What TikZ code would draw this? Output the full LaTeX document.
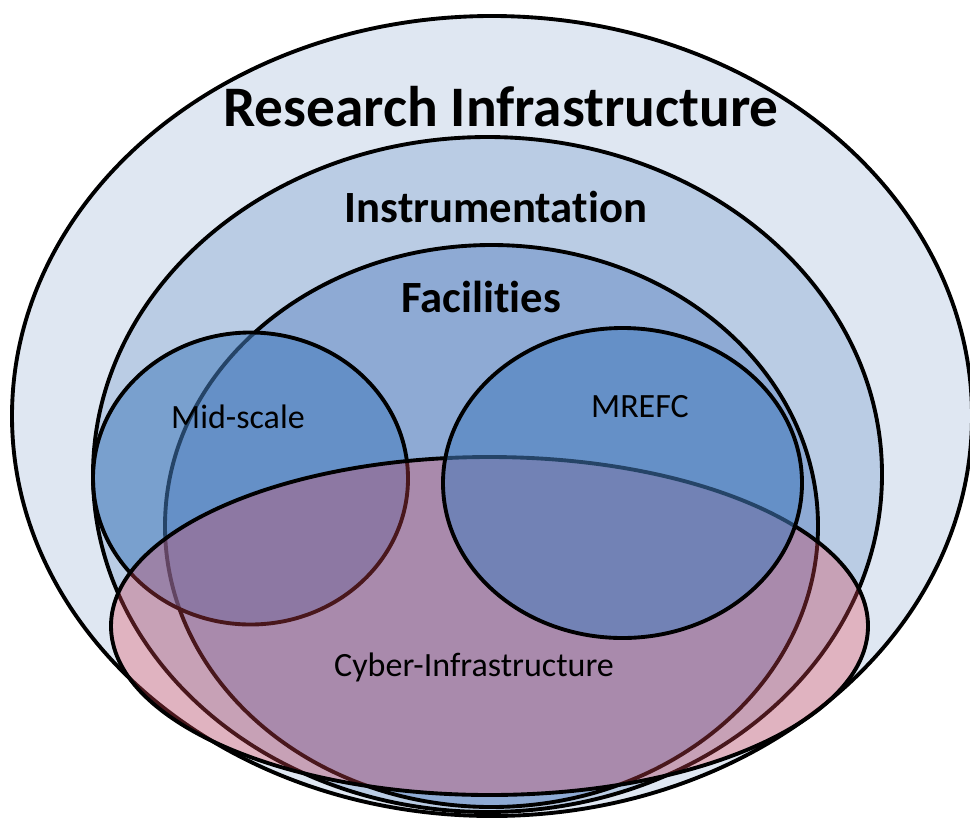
\documentclass[tikz,border=0pt]{standalone}
\usepackage{fontspec}
\setmainfont{Carlito}[Ligatures=NoCommon]
\definecolor{riblue}{RGB}{223,231,242}
\definecolor{inblue}{RGB}{186,204,228}
\definecolor{fablue}{RGB}{142,170,212}
\definecolor{subblue}{RGB}{69,124,189}
\definecolor{cyred}{RGB}{228,72,88}
% keep t and i apart
\newcommand{\tii}{t\kern0pt i}

\begin{document}
\begin{tikzpicture}[x=0.75pt, y=-0.75pt, line width=2.9pt,
		ring/.style={draw=black},
		sub/.style={draw=black, fill=subblue, fill opacity=0.55},
		big/.style={font=\fontsize{43}{48}\selectfont\bfseries},
		mid/.style={font=\fontsize{33.5}{38}\selectfont\bfseries},
		small/.style={font=\fontsize{25.5}{30}\selectfont}]
		\useasboundingbox (0,0) rectangle (970,818);
		% nested sets
		\draw[ring, fill=riblue] (492,416) ellipse [x radius=480, y radius=400];
		\draw[ring, fill=inblue] (487.5,474.5) ellipse [x radius=394.5, y radius=337.5];
		\draw[ring, fill=fablue] (491.5,526) ellipse [x radius=326.5, y radius=281];
		\draw[sub] (250.5,478.5) ellipse [x radius=157.5, y radius=146];
		\draw[ring, fill=cyred, fill opacity=0.32] (489.5,626) ellipse [x radius=378.5, y radius=169];
		\draw[sub] (622.5,483) ellipse [x radius=179.5, y radius=155];
		% labels
		\node[big] (research) at (501,107) {Research Infrastructure};
		\node[mid] (instr) at (496,207) {Instrumenta\tii on};
		\node[mid] (facil) at (481,297) {Facili\tii es};
		\node[small] (midscale) at (238,417) {Mid-scale};
		\node[small] (mrefc) at (640,407) {MREFC};
		\node[small] (cyber) at (474,667) {Cyber-Infrastructure};
	\end{tikzpicture}
\end{document}
